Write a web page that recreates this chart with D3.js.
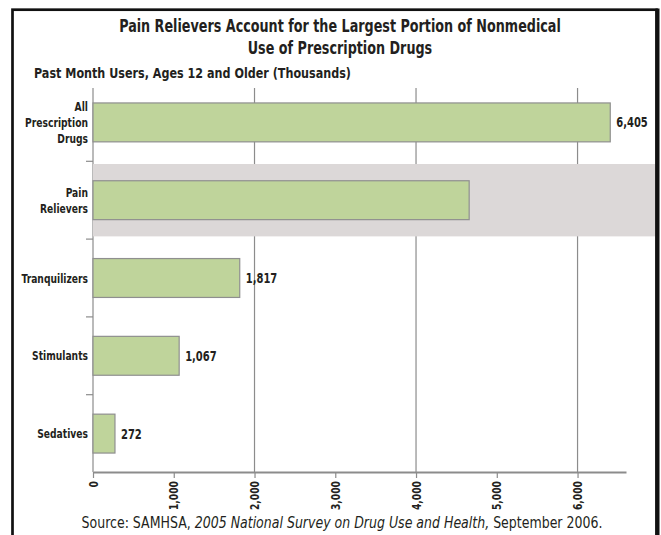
<!DOCTYPE html>
<html>
<head>
<meta charset="utf-8">
<script src="https://cdn.jsdelivr.net/npm/d3@7"></script>
<style>
  body { margin: 0; background: #fff; }
  text { font-family: "DejaVu Sans Condensed", "Liberation Sans", sans-serif; fill: #231f20; }
</style>
</head>
<body>
<div id="my_dataviz"></div>
<script>
// data
var categories = ["All Prescription Drugs", "Pain Relievers", "Tranquilizers", "Stimulants", "Sedatives"];
var categoryLines = [["All", "Prescription", "Drugs"], ["Pain", "Relievers"], ["Tranquilizers"], ["Stimulants"], ["Sedatives"]];
var users = [6405, 4658, 1817, 1067, 272];
var showValue = [true, false, true, true, true];
var xTicks = [0, 1000, 2000, 3000, 4000, 5000, 6000];
var gridTicks = [2000, 4000, 6000];
var highlighted = "Pain Relievers";

var titleLines = ["Pain Relievers Account for the Largest Portion of Nonmedical", "Use of Prescription Drugs"];
var subtitle = "Past Month Users, Ages 12 and Older (Thousands)";

var W = 661, H = 535;

// squeeze text horizontally so it looks like a condensed face
function condense(sel, f) {
  sel.each(function() {
    var w = this.getComputedTextLength();
    d3.select(this).attr("textLength", w * f).attr("lengthAdjust", "spacingAndGlyphs");
  });
}

var svg = d3.select("#my_dataviz")
  .append("svg")
    .attr("width", W)
    .attr("height", H);

// outer frame (bottom edge falls outside the picture)
svg.append("rect")
  .attr("x", 12.5).attr("y", 9.7)
  .attr("width", 644).attr("height", 600)
  .attr("fill", "none")
  .attr("stroke", "#111")
  .attr("stroke-width", 2.7);
svg.append("line")
  .attr("x1", 657.5).attr("x2", 657.5)
  .attr("y1", 8.5).attr("y2", H)
  .attr("stroke", "#111").attr("stroke-width", 4);

// titles
var title = svg.selectAll(".title")
  .data(titleLines)
  .enter()
  .append("text")
    .attr("x", 340)
    .attr("y", function(d, i) { return 32 + i * 21.5; })
    .attr("text-anchor", "middle")
    .style("font-size", "17.5px")
    .style("font-weight", "bold")
    .text(function(d) { return d; });
condense(title, 0.81);

var sub = svg.append("text")
  .attr("x", 34).attr("y", 77.5)
  .style("font-size", "13.5px")
  .style("font-weight", "bold")
  .text(subtitle);
condense(sub, 0.92);

// scales
var x = d3.scaleLinear()
  .domain([0, 6600])
  .range([93, 626]);

var y = d3.scaleBand()
  .domain(categories)
  .range([83.5, 472.5])
  .paddingInner(0.5)
  .paddingOuter(0.25);

var plotTop = 88, plotBottom = 472;

// gridlines
svg.append("g")
  .selectAll("line")
  .data(gridTicks)
  .enter()
  .append("line")
    .attr("x1", function(d) { return x(d); })
    .attr("x2", function(d) { return x(d); })
    .attr("y1", plotTop)
    .attr("y2", plotBottom)
    .attr("stroke", "#8c8c8c")
    .attr("stroke-width", 1.2);

// y axis line
svg.append("line")
  .attr("x1", x(0)).attr("x2", x(0))
  .attr("y1", plotTop).attr("y2", plotBottom)
  .attr("stroke", "#8c8c8c")
  .attr("stroke-width", 1.2);

// highlight band behind pain relievers
var bandH = y.step() * 0.93;
svg.append("rect")
  .attr("x", x(0))
  .attr("y", y(highlighted) + y.bandwidth() / 2 - bandH / 2)
  .attr("width", 655 - x(0))
  .attr("height", bandH)
  .attr("fill", "#dcd8d8");

// category boundary ticks
svg.append("g")
  .selectAll("line")
  .data(categories.slice(1))
  .enter()
  .append("line")
    .attr("x1", x(0) - 7)
    .attr("x2", x(0))
    .attr("y1", function(d) { return y(d) - y.step() * y.paddingInner() / 2; })
    .attr("y2", function(d) { return y(d) - y.step() * y.paddingInner() / 2; })
    .attr("stroke", "#8c8c8c")
    .attr("stroke-width", 1.2);

// bars
svg.append("g")
  .selectAll("rect")
  .data(users)
  .enter()
  .append("rect")
    .attr("x", x(0))
    .attr("y", function(d, i) { return y(categories[i]); })
    .attr("width", function(d) { return x(d) - x(0); })
    .attr("height", y.bandwidth())
    .attr("fill", "#bfd49b")
    .attr("stroke", "#8f8f8f")
    .attr("stroke-width", 1.2);

// value labels
var valueLabels = svg.append("g")
  .selectAll("text")
  .data(users.map(function(v, i) { return { v: v, c: categories[i], show: showValue[i] }; })
    .filter(function(d) { return d.show; }))
  .enter()
  .append("text")
    .attr("x", function(d) { return x(d.v) + 6; })
    .attr("y", function(d) { return y(d.c) + y.bandwidth() / 2 + 5; })
    .style("font-size", "13.5px")
    .style("font-weight", "bold")
    .text(function(d) { return d3.format(",")(d.v); });
condense(valueLabels, 0.82);

// category labels
var catLabel = svg.append("g")
  .selectAll("text")
  .data(categories)
  .enter()
  .append("text")
    .attr("text-anchor", "end")
    .style("font-size", "12px")
    .style("font-weight", "bold");

var catLines = catLabel.selectAll("tspan")
  .data(function(d, i) {
    var lines = categoryLines[i];
    var cy = y(d) + y.bandwidth() / 2;
    return lines.map(function(t, j) { return { t: t, y: cy + (j - (lines.length - 1) / 2) * 16 + 4.5 }; });
  })
  .enter()
  .append("tspan")
    .attr("x", 88)
    .attr("y", function(d) { return d.y; })
    .text(function(d) { return d.t; });
condense(catLines, 0.85);

// x axis
var xAxis = svg.append("g")
  .attr("transform", "translate(0," + plotBottom + ")")
  .call(d3.axisBottom(x).tickValues(xTicks).tickSize(6).tickSizeOuter(0).tickFormat(d3.format(",")));

xAxis.select(".domain")
  .attr("stroke", "#8c8c8c")
  .attr("stroke-width", 2);
xAxis.selectAll(".tick line")
  .attr("stroke", "#8c8c8c")
  .attr("stroke-width", 1.2);
var xLabels = xAxis.selectAll(".tick text")
  .attr("transform", "rotate(-90)")
  .attr("x", -9)
  .attr("y", 0)
  .attr("dy", "0.35em")
  .attr("text-anchor", "end")
  .style("font-family", "'DejaVu Sans Condensed', sans-serif")
  .style("font-size", "12px")
  .style("font-weight", "bold")
  .style("fill", "#231f20");
condense(xLabels, 0.85);

// source line
var src = svg.append("text")
  .attr("x", 342).attr("y", 528)
  .attr("text-anchor", "middle")
  .style("font-size", "15px");
src.append("tspan").text("Source: SAMHSA, ");
src.append("tspan").style("font-style", "italic").text("2005 National Survey on Drug Use and Health,");
src.append("tspan").text(" September 2006.");
condense(src, 0.93);
</script>
</body>
</html>
